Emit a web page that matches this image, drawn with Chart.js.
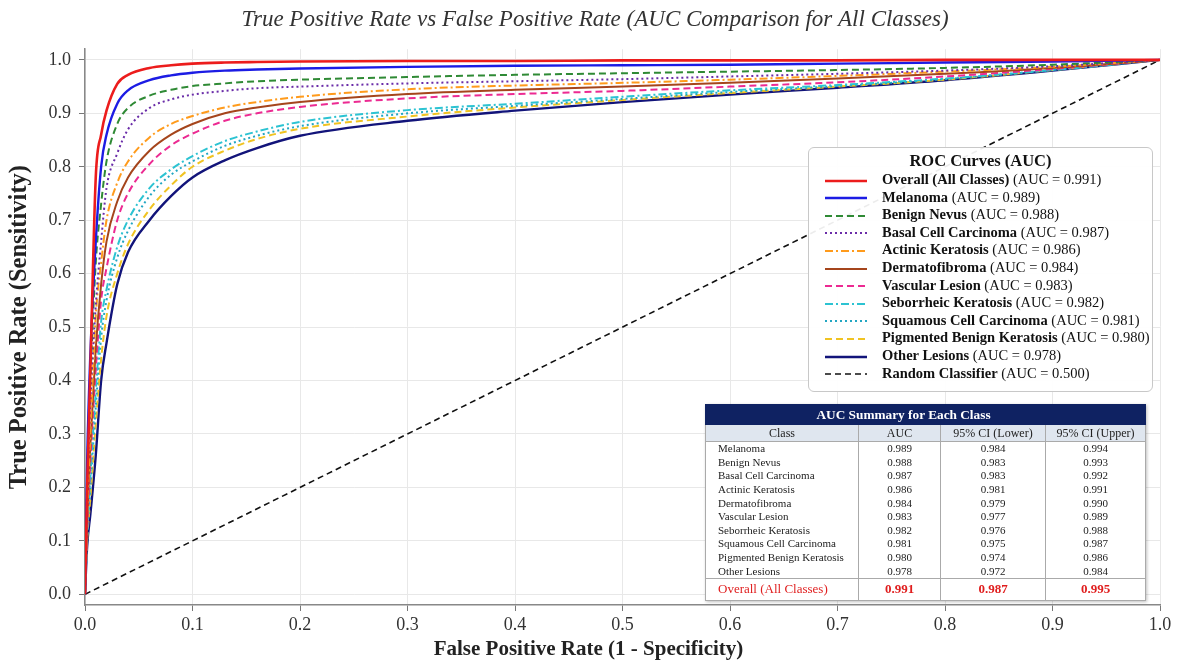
<!DOCTYPE html>
<html>
<head>
<meta charset="utf-8">
<title>ROC AUC</title>
<script src="https://cdn.jsdelivr.net/npm/chart.js@4.4.0/dist/chart.umd.min.js"></script>
<style>
body { margin: 0; background: #fff; }
#contenedor { position: relative; width: 1177px; height: 660px; overflow: hidden; font-family: 'Liberation Serif', 'DejaVu Serif', serif; }
#grafico { position: absolute; left: 0; top: 0; }
#leyenda {
    position: absolute; left: 808px; top: 147px; width: 345px; height: 245px;
    box-sizing: border-box; border: 1px solid #c8c8c8; border-radius: 6px;
    background: rgba(255,255,255,0.92); color: #111;
}
#leyenda .tituloLeyenda { height: 23px; line-height: 26px; text-align: center; font-weight: bold; font-size: 16.5px; }
#leyenda .fila { height: 17.6px; line-height: 17.6px; font-size: 14.5px; padding-left: 16px; white-space: pre; }
#leyenda svg { vertical-align: middle; margin-right: 15px; }
#tablaAUC {
    position: absolute; left: 705px; top: 404px; width: 440px;
    border-collapse: collapse; table-layout: fixed; background: #fff;
    box-shadow: 1px 1px 3px rgba(0,0,0,0.25); color: #222;
}
#tablaAUC td, #tablaAUC th { padding: 0; border-left: 1px solid #aaa; border-right: 1px solid #aaa; }
#tablaAUC .cabecera th { background: #0f2262; color: #fff; font-size: 13.3px; height: 19px; border: 1px solid #0f2262; padding-right: 44px; }
#tablaAUC .columnas th { background: #dfe6ef; font-size: 12px; font-weight: normal; height: 16px; border-bottom: 1px solid #aaa; }
#tablaAUC .dato td { font-size: 11px; height: 13.6px; line-height: 13px; text-align: center; }
#tablaAUC .dato td:first-child { text-align: left; padding-left: 12px; }
#tablaAUC .total td { font-size: 13px; height: 21px; color: #e01e1e; text-align: center; font-weight: bold; border-top: 1px solid #aaa; border-bottom: 1px solid #aaa; }
#tablaAUC .total td:first-child { text-align: left; padding-left: 12px; font-weight: normal; }
</style>
</head>
<body>
<div id="contenedor">
    <canvas id="grafico" width="1177" height="660"></canvas>
    <div id="leyenda"></div>
    <table id="tablaAUC"></table>
</div>
<script>
// Datos
const fprGrid = [0, 0.002, 0.005, 0.01, 0.015, 0.02, 0.03, 0.04, 0.06, 0.08, 0.1, 0.13, 0.16, 0.2, 0.3, 0.4, 0.5, 0.6, 0.7, 0.8, 0.9, 1.0];

const tprOverall     = [0, 0.20, 0.42, 0.78, 0.86, 0.905, 0.955, 0.972, 0.985, 0.990, 0.993, 0.995, 0.996, 0.997, 0.998, 0.998, 0.999, 0.999, 0.999, 1.0, 1.0, 1.0];
const tprMelanoma    = [0, 0.25, 0.45, 0.66, 0.80, 0.86, 0.918, 0.943, 0.962, 0.971, 0.976, 0.980, 0.982, 0.984, 0.987, 0.989, 0.990, 0.991, 0.993, 0.995, 0.997, 1.0];
const tprNevus       = [0, 0.22, 0.40, 0.62, 0.73, 0.81, 0.88, 0.910, 0.933, 0.944, 0.951, 0.956, 0.960, 0.963, 0.968, 0.972, 0.975, 0.978, 0.981, 0.985, 0.991, 1.0];
const tprBasal       = [0, 0.19, 0.36, 0.54, 0.66, 0.76, 0.825, 0.87, 0.910, 0.926, 0.935, 0.942, 0.947, 0.950, 0.956, 0.960, 0.964, 0.969, 0.974, 0.980, 0.988, 1.0];
const tprActinic     = [0, 0.15, 0.30, 0.52, 0.62, 0.70, 0.77, 0.81, 0.855, 0.880, 0.895, 0.911, 0.921, 0.931, 0.945, 0.952, 0.957, 0.963, 0.970, 0.978, 0.987, 1.0];
const tprDermato     = [0, 0.14, 0.28, 0.46, 0.58, 0.66, 0.735, 0.78, 0.830, 0.860, 0.880, 0.900, 0.911, 0.921, 0.936, 0.944, 0.950, 0.957, 0.965, 0.974, 0.985, 1.0];
const tprVascular    = [0, 0.12, 0.25, 0.42, 0.55, 0.61, 0.70, 0.75, 0.805, 0.840, 0.862, 0.886, 0.900, 0.912, 0.928, 0.936, 0.942, 0.950, 0.958, 0.969, 0.983, 1.0];
const tprSeborrheic  = [0, 0.11, 0.22, 0.38, 0.51, 0.57, 0.65, 0.70, 0.760, 0.795, 0.820, 0.848, 0.866, 0.884, 0.906, 0.918, 0.931, 0.943, 0.953, 0.965, 0.981, 1.0];
const tprSquamous    = [0, 0.105, 0.20, 0.35, 0.48, 0.55, 0.63, 0.68, 0.745, 0.785, 0.810, 0.839, 0.858, 0.876, 0.900, 0.914, 0.927, 0.940, 0.951, 0.964, 0.981, 1.0];
const tprPigmented   = [0, 0.10, 0.18, 0.32, 0.44, 0.52, 0.60, 0.655, 0.720, 0.765, 0.800, 0.830, 0.852, 0.871, 0.894, 0.911, 0.925, 0.938, 0.950, 0.963, 0.981, 1.0];
const tprOther       = [0, 0.09, 0.15, 0.26, 0.40, 0.47, 0.58, 0.64, 0.700, 0.745, 0.780, 0.812, 0.835, 0.858, 0.886, 0.905, 0.921, 0.935, 0.948, 0.962, 0.980, 1.0];

const randomFpr = [0, 1];
const randomTpr = [0, 1];

const classNames = ['Melanoma', 'Benign Nevus', 'Basal Cell Carcinoma', 'Actinic Keratosis', 'Dermatofibroma',
    'Vascular Lesion', 'Seborrheic Keratosis', 'Squamous Cell Carcinoma', 'Pigmented Benign Keratosis', 'Other Lesions'];
const classAUC = [0.989, 0.988, 0.987, 0.986, 0.984, 0.983, 0.982, 0.981, 0.980, 0.978];
const ciLower  = [0.984, 0.983, 0.983, 0.981, 0.979, 0.977, 0.976, 0.975, 0.974, 0.972];
const ciUpper  = [0.994, 0.993, 0.992, 0.991, 0.990, 0.989, 0.988, 0.987, 0.986, 0.984];
const overallName = 'Overall (All Classes)';
const overallAUC = 0.991, overallLower = 0.987, overallUpper = 0.995;
const randomName = 'Random Classifier';
const randomAUC = 0.500;

const xTicks = [0, 0.1, 0.2, 0.3, 0.4, 0.5, 0.6, 0.7, 0.8, 0.9, 1.0];
const yTicks = [0, 0.1, 0.2, 0.3, 0.4, 0.5, 0.6, 0.7, 0.8, 0.9, 1.0];

const xLabel = 'False Positive Rate (1 - Specificity)';
const yLabel = 'True Positive Rate (Sensitivity)';

// estilos de cada curva (mismo orden que la leyenda)
const curvas = [tprOverall, tprMelanoma, tprNevus, tprBasal, tprActinic, tprDermato, tprVascular, tprSeborrheic, tprSquamous, tprPigmented, tprOther];
const nombres = [overallName, ...classNames];
const aucs = [overallAUC, ...classAUC];
const colores = ['#ec1c1c', '#1c1ce4', '#2f8a35', '#6a2ca8', '#ff9b1c', '#a5451c', '#ec2a92', '#2cc3d2', '#22a6c2', '#f0c322', '#12147a'];
const guiones = [[], [], [7, 4], [2, 3], [8, 3, 2, 3], [], [7, 4], [8, 3, 2, 3], [2, 3], [7, 4], []];
const grosores = [2.6, 2.4, 2, 2, 2, 2, 2, 2, 2, 2, 2.4];

const fuente = "'Liberation Serif', 'DejaVu Serif', serif";

let datasets = curvas.map((tpr, i) => ({
    label: nombres[i],
    data: fprGrid.map((x, j) => ({ x: x, y: tpr[j] })),
    borderColor: colores[i],
    borderDash: guiones[i],
    borderWidth: grosores[i],
    fill: false
}));
datasets.push({
    label: randomName,
    data: randomFpr.map((x, j) => ({ x: x, y: randomTpr[j] })),
    borderColor: '#111',
    borderDash: [6, 4],
    borderWidth: 1.6,
    fill: false
});

// titulos de ejes dibujados a mano (x centrado en la figura, como matplotlib)
const titulosEjes = {
    id: 'titulosEjes',
    afterDraw(chart) {
        const c = chart.ctx;
        const area = chart.chartArea;
        c.save();
        c.fillStyle = '#222';
        c.textAlign = 'center';
        c.textBaseline = 'middle';
        c.font = 'bold 21px ' + fuente;
        c.fillText(xLabel, chart.width / 2, chart.height - 10);
        c.translate(20, (area.top + area.bottom) / 2);
        c.rotate(-Math.PI / 2);
        c.font = 'bold 24.5px ' + fuente;
        c.fillText(yLabel, 0, 0);
        c.restore();
    }
};

const ctx = document.getElementById('grafico').getContext('2d');
const graficoROC = new Chart(ctx, {
    type: 'line',
    data: { datasets: datasets },
    plugins: [titulosEjes],
    options: {
        responsive: false,
        animation: false,
        devicePixelRatio: 1,
        layout: { padding: { left: 30, right: 17, top: 0, bottom: 0 } },
        elements: {
            point: { radius: 0 },
            line: { cubicInterpolationMode: 'monotone', borderCapStyle: 'butt' }
        },
        plugins: {
            legend: { display: false },
            tooltip: { enabled: false },
            title: {
                display: true,
                text: 'True Positive Rate vs False Positive Rate (AUC Comparison for All Classes)',
                font: { family: fuente, style: 'italic', size: 23, weight: 'normal' },
                color: '#333',
                padding: { top: 6, bottom: 15.6 }
            }
        },
        scales: {
            x: {
                type: 'linear', min: 0, max: 1,
                afterBuildTicks: (axis) => { axis.ticks = xTicks.map(v => ({ value: v })); },
                afterFit: (scale) => { scale.height = 55; },
                ticks: { callback: v => v.toFixed(1), font: { family: fuente, size: 18 }, color: '#333', padding: 3, maxRotation: 0 },
                grid: { color: '#e8e8e8', tickColor: '#777', tickLength: 6 },
                border: { color: '#888', width: 1.5 }
            },
            y: {
                type: 'linear', min: -0.02, max: 1.02,
                afterBuildTicks: (axis) => { axis.ticks = yTicks.map(v => ({ value: v })); },
                afterFit: (scale) => { scale.width = 55; },
                ticks: { callback: v => v.toFixed(1), font: { family: fuente, size: 18 }, color: '#333', padding: 8 },
                grid: { color: '#e8e8e8', tickColor: '#777', tickLength: 6 },
                border: { color: '#888', width: 1.5 }
            }
        }
    }
});

// LEYENDA
function lineaMuestra(color, dash, ancho) {
    return `<svg width="42" height="10"><line x1="0" y1="5" x2="42" y2="5" stroke="${color}" stroke-width="${ancho}" stroke-dasharray="${dash.length ? dash.join(',') : 'none'}"/></svg>`;
}
let leyenda = document.getElementById('leyenda');
leyenda.innerHTML = '<div class="tituloLeyenda">ROC Curves (AUC)</div>';
for (let ds of graficoROC.data.datasets) {
    let auc = ds.label === randomName ? randomAUC : aucs[nombres.indexOf(ds.label)];
    leyenda.innerHTML += `<div class="fila">${lineaMuestra(ds.borderColor, ds.borderDash, ds.borderWidth)}<b>${ds.label}</b> (AUC = ${auc.toFixed(3)})</div>`;
}

// TABLA
let tabla = document.getElementById('tablaAUC');
let html = '<colgroup><col style="width:153px"><col style="width:82px"><col style="width:105px"><col style="width:100px"></colgroup>';
html += '<tr class="cabecera"><th colspan="4">AUC Summary for Each Class</th></tr>';
html += '<tr class="columnas"><th>Class</th><th>AUC</th><th>95% CI (Lower)</th><th>95% CI (Upper)</th></tr>';
for (let i = 0; i < classNames.length; i++) {
    html += `<tr class="dato"><td>${classNames[i]}</td><td>${classAUC[i].toFixed(3)}</td><td>${ciLower[i].toFixed(3)}</td><td>${ciUpper[i].toFixed(3)}</td></tr>`;
}
html += `<tr class="total"><td>${overallName}</td><td>${overallAUC.toFixed(3)}</td><td>${overallLower.toFixed(3)}</td><td>${overallUpper.toFixed(3)}</td></tr>`;
tabla.innerHTML = html;
</script>
</body>
</html>
